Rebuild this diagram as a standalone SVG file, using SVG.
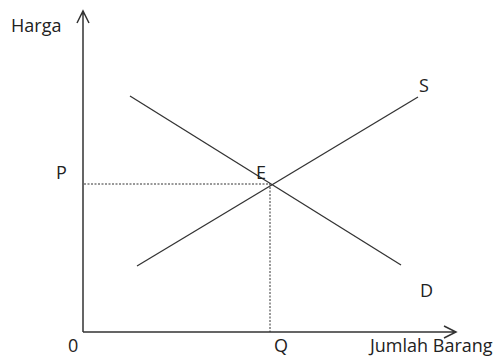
<svg xmlns="http://www.w3.org/2000/svg" width="500" height="358" viewBox="0 0 500 358">
<style>
.t{font-family:"Open Sans","Liberation Sans",sans-serif;font-size:18px;fill:#222}
.ax{stroke:#333;stroke-width:1.5;fill:none}
.cv{stroke:#333;stroke-width:1.3;fill:none}
.dt{stroke:#333;stroke-width:1;stroke-dasharray:2 1.5;fill:none}
</style>
<rect width="500" height="358" fill="#fff"/>
<g id="axes">
<path class="ax" d="M83,332 V11 M77,23 L83,11 L89,23"/>
<path class="ax" d="M83,332 H456 M444,326 L456,332 L444,338"/>
</g>
<g id="connectors">
<path class="cv" d="M137,266 L418,97"/>
<path class="cv" d="M130,96 L401,265"/>
<path class="dt" d="M84,184 H270 V332"/>
</g>
<g id="labels">
<text class="t" x="11" y="32">Harga</text>
<text class="t" x="56" y="179">P</text>
<text class="t" x="256" y="179">E</text>
<text class="t" x="419" y="92">S</text>
<text class="t" x="420" y="297">D</text>
<text class="t" x="68" y="352">0</text>
<text class="t" x="274" y="352">Q</text>
<text class="t" x="370" y="352">Jumlah Barang</text>
</g>
</svg>
